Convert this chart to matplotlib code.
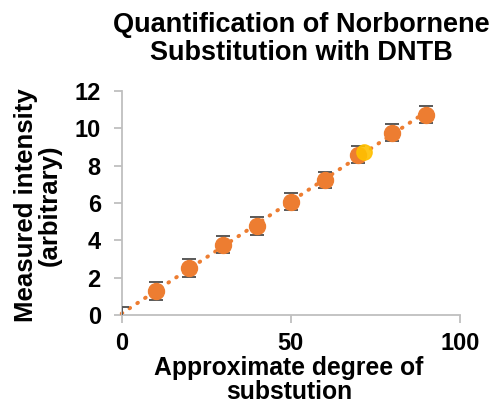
import numpy as np
import matplotlib
matplotlib.use("Agg")
import matplotlib.pyplot as plt

plt.rcParams['font.family'] = ['Liberation Sans', 'DejaVu Sans']

# degree of substitution (x) and measured intensity (y)
substitution = [0, 10, 20, 30, 40, 50, 60, 70, 80, 90]
intensity = [0.0, 1.30, 2.53, 3.77, 4.77, 6.07, 7.23, 8.59, 9.77, 10.73]
errors = [0.45, 0.47, 0.47, 0.47, 0.47, 0.45, 0.45, 0.47, 0.47, 0.47]

# highlighted sample
highlight_x = [71.8]
highlight_y = [8.71]

x_ticks = [0, 50, 100]
y_ticks = [0, 2, 4, 6, 8, 10, 12]

orange = '#ED7D31'
gray = '#BFBFBF'

W, H = 497, 404
fig = plt.figure(figsize=(W / 100, H / 100), dpi=100)
ax = fig.add_axes([121.7 / W, 1 - 315 / H, 338 / W, 224 / H])

# linear trendline
coef = np.polyfit(substitution, intensity, 1)
xt = np.array([min(substitution), max(substitution) + 1])
ax.plot(xt, np.polyval(coef, xt), linestyle=(0, (0.2, 2.2)), color=orange,
        linewidth=2.8, zorder=2, dash_capstyle='round', clip_on=False)

ax.errorbar(substitution, intensity, yerr=errors, fmt='none',
            ecolor='#595959', elinewidth=1.4, capsize=5, capthick=1.4,
            zorder=3)
xs = np.array(substitution)
ys = np.array(intensity)
mask = ys > 0
ax.plot(xs[mask], ys[mask], 'o', color=orange, markersize=11.5, zorder=4)
ax.plot(highlight_x, highlight_y, 'o', color='#FFC000', markersize=11,
        alpha=0.9, zorder=5)

ax.set_xlim(0, 100)
ax.set_ylim(0, 12)
ax.set_xticks(x_ticks)
ax.set_yticks(y_ticks)

for side in ['top', 'right']:
    ax.spines[side].set_visible(False)
for side in ['left', 'bottom']:
    ax.spines[side].set_color(gray)
    ax.spines[side].set_linewidth(1.3)
ax.tick_params(axis='both', colors=gray, length=6, width=1.3,
               labelcolor='black', labelsize=17)
ax.tick_params(axis='x', pad=6)
ax.tick_params(axis='y', pad=9)
for lbl in ax.get_xticklabels() + ax.get_yticklabels():
    lbl.set_fontweight('bold')

fig.text(301 / W, 1 - 39 / H,
         'Quantification of Norbornene\nSubstitution with DNTB',
         fontsize=19.5, fontweight='bold', ha='center', va='center',
         linespacing=1.05)
fig.text(289 / W, 1 - 380 / H, 'Approximate degree of\nsubstution',
         fontsize=17.8, fontweight='bold', ha='center', va='center',
         linespacing=0.95)
fig.text(38 / W, 1 - 205 / H, 'Measured intensity\n(arbitrary)',
         fontsize=18.5, fontweight='bold', ha='center', va='center',
         rotation=90, linespacing=1.0)

fig.savefig('out.png', dpi=100)
